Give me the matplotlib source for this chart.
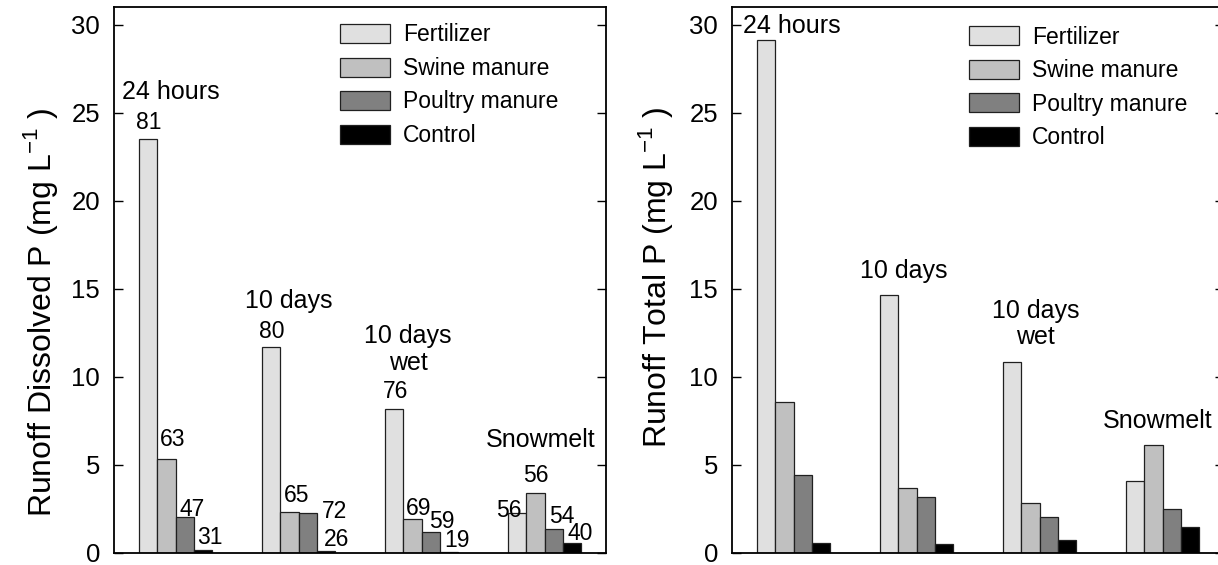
import matplotlib
matplotlib.use("Agg")
import matplotlib.pyplot as plt
import numpy as np

plt.rcParams['font.family'] = ['Liberation Sans', 'DejaVu Sans']
plt.rcParams['mathtext.fontset'] = 'custom'
plt.rcParams['mathtext.rm'] = 'Liberation Sans'

# ---------------- data ----------------
categories = ['24 hours', '10 days', '10 days\nwet', 'Snowmelt']
series = ['Fertilizer', 'Swine manure', 'Poultry manure', 'Control']
colors = ['#e0e0e0', '#c0c0c0', '#808080', '#000000']

dissolved_fert = [23.5, 11.7, 8.15, 2.25]
dissolved_swine = [5.35, 2.35, 1.95, 3.38]
dissolved_poultry = [2.05, 2.27, 1.17, 1.35]
dissolved_control = [0.15, 0.10, 0.08, 0.57]

total_fert = [29.1, 14.65, 10.87, 4.1]
total_swine = [8.55, 3.67, 2.84, 6.11]
total_poultry = [4.41, 3.2, 2.06, 2.5]
total_control = [0.58, 0.53, 0.74, 1.48]

fert_pct = ['81', '80', '76', '56']
swine_pct = ['63', '65', '69', '56']
poultry_pct = ['47', '72', '59', '54']
control_pct = ['31', '26', '19', '40']

yticks = [0, 5, 10, 15, 20, 25, 30]

# ---------------- layout ----------------
W, H = 1218, 565
fig = plt.figure(figsize=(W / 100, H / 100), dpi=100)

def px_axes(x0, x1, y0, y1):
    return [x0 / W, (H - y1) / H, (x1 - x0) / W, (y1 - y0) / H]

ax1 = fig.add_axes(px_axes(114, 606, 7, 553))
ax2 = fig.add_axes(px_axes(732, 1224, 7, 553))

bar_w = 0.15
offsets = [-1.5, -0.5, 0.5, 1.5]
x = np.arange(len(categories))

# label offsets in pixels (dx from bar centre, dy from bar top to baseline)
label_offsets = [
    [(1, 10), (6, 13), (7, 1), (7, 6)],
    [(1, 9), (7.5, 10), (26.5, -4.7), (10, 5)],
    [(2, 11), (6.5, 3.7), (10.7, 4), (8, 5)],
    [(-8, -3.4), (0.5, 11.7), (8, 6.6), (8, 3)],
]

title_pos_left = [(-0.04, 26.2), (0.92, 14.32), (1.89, 11.57), (2.97, 6.41)]
title_pos_right = [(-0.015, 29.9), (0.897, 16.03), (1.97, 13.0), (2.96, 7.5)]


def draw(ax, vals, ylabel, title_pos, label_xy, pcts=None, leg_anchor=(0.46, 0.975)):
    handles = []
    for i, (v, c, name) in enumerate(zip(vals, colors, series)):
        bc = ax.bar(x + offsets[i] * bar_w, v, width=bar_w, color=c,
                    edgecolor='#202020', linewidth=0.9, label=name, zorder=2)
        handles.append(bc)
        if pcts is not None:
            for g in range(len(categories)):
                dx, dy = label_offsets[g][i]
                ax.annotate(pcts[i][g], xy=(x[g] + offsets[i] * bar_w, v[g]),
                            xytext=(dx, dy), textcoords='offset pixels',
                            ha='center', va='baseline', fontsize=16.5)
    for (tx, ty), t in zip(title_pos, categories):
        ax.text(tx, ty, t, ha='center', va='center', fontsize=18,
                linespacing=1.15)
    ax.set_xlim(-0.5, 3.5)
    ax.set_ylim(0, 31)
    ax.set_xticks([])
    ax.set_yticks(yticks)
    ax.tick_params(axis='y', direction='in', length=6.5, width=1.0,
                   right=True, labelsize=18.5, pad=10)
    for s in ax.spines.values():
        s.set_linewidth(1.3)
    ax.set_ylabel(ylabel, fontsize=23)
    ax.yaxis.set_label_coords(*label_xy)
    ax.legend(handles=handles, loc='upper left', bbox_to_anchor=leg_anchor,
              frameon=False, fontsize=16.5, handlelength=2.2,
              handleheight=0.9, handletextpad=0.55, labelspacing=0.46,
              borderpad=0, borderaxespad=0)


draw(ax1, [dissolved_fert, dissolved_swine, dissolved_poultry, dissolved_control],
     r'Runoff Dissolved P (mg L$^{\mathregular{-1}}$ )', title_pos_left, (-0.11, 0.44),
     pcts=[fert_pct, swine_pct, poultry_pct, control_pct], leg_anchor=(0.459, 0.97))
draw(ax2, [total_fert, total_swine, total_poultry, total_control],
     r'Runoff Total P (mg L$^{\mathregular{-1}}$ )', title_pos_right, (-0.116, 0.505),
     leg_anchor=(0.481, 0.966))

fig.savefig('out.png', dpi=100)
